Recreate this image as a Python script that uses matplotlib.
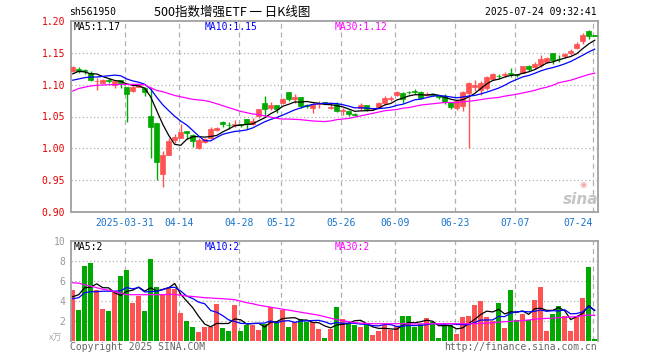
import numpy as np
import pandas as pd
import matplotlib
matplotlib.use('agg')
import matplotlib.pyplot as plt

# trading days shown, 2025-03-18 .. 2025-07-24
dates = ['03-18', '03-19', '03-20', '03-21', '03-24', '03-25', '03-26', '03-27', '03-28', '03-31',
         '04-01', '04-02', '04-03', '04-07', '04-08', '04-09', '04-10', '04-11', '04-14', '04-15',
         '04-16', '04-17', '04-18', '04-21', '04-22', '04-23', '04-24', '04-25', '04-28', '04-29',
         '04-30', '05-06', '05-07', '05-08', '05-09', '05-12', '05-13', '05-14', '05-15', '05-16',
         '05-19', '05-20', '05-21', '05-22', '05-23', '05-26', '05-27', '05-28', '05-29', '05-30',
         '06-03', '06-04', '06-05', '06-06', '06-09', '06-10', '06-11', '06-12', '06-13', '06-16',
         '06-17', '06-18', '06-19', '06-20', '06-23', '06-24', '06-25', '06-26', '06-27', '06-30',
         '07-01', '07-02', '07-03', '07-04', '07-07', '07-08', '07-09', '07-10', '07-11', '07-14',
         '07-15', '07-16', '07-17', '07-18', '07-21', '07-22', '07-23', '07-24']

opens = [1.121, 1.125, 1.123, 1.119, 1.105, 1.103, 1.108, 1.100, 1.107, 1.096,
         1.090, 1.097, 1.094, 1.050, 1.040, 0.960, 0.990, 1.013, 1.017, 1.027,
         1.021, 1.000, 1.010, 1.016, 1.029, 1.041, 1.037, 1.036, 1.038, 1.046,
         1.038, 1.051, 1.071, 1.063, 1.068, 1.071, 1.088, 1.077, 1.080, 1.068,
         1.063, 1.069, 1.072, 1.064, 1.070, 1.059, 1.058, 1.054, 1.063, 1.068,
         1.0615, 1.064, 1.071, 1.078, 1.083, 1.087, 1.089, 1.090, 1.089, 1.084,
         1.085, 1.083, 1.082, 1.072, 1.064, 1.066, 1.087, 1.097, 1.091, 1.094,
         1.109, 1.114, 1.115, 1.118, 1.116, 1.119, 1.130, 1.128, 1.131, 1.135,
         1.149, 1.141, 1.145, 1.150, 1.158, 1.169, 1.184, 1.177]
closes = [1.128, 1.121, 1.121, 1.108, 1.106, 1.108, 1.105, 1.106, 1.102, 1.085,
          1.097, 1.100, 1.089, 1.033, 0.978, 0.990, 1.012, 1.018, 1.026, 1.024,
          1.011, 1.013, 1.014, 1.031, 1.032, 1.039, 1.036, 1.039, 1.036, 1.038,
          1.043, 1.061, 1.062, 1.068, 1.062, 1.077, 1.077, 1.080, 1.067, 1.067,
          1.069, 1.071, 1.071, 1.065, 1.059, 1.060, 1.054, 1.053, 1.068, 1.061,
          1.062, 1.071, 1.079, 1.079, 1.088, 1.077, 1.088, 1.089, 1.079, 1.085,
          1.084, 1.080, 1.072, 1.065, 1.075, 1.089, 1.103, 1.099, 1.103, 1.112,
          1.116, 1.113, 1.116, 1.116, 1.115, 1.129, 1.125, 1.133, 1.141, 1.142,
          1.138, 1.140, 1.148, 1.153, 1.164, 1.178, 1.177, 1.177]
highs = [1.130, 1.127, 1.125, 1.121, 1.110, 1.109, 1.110, 1.108, 1.108, 1.097,
         1.099, 1.101, 1.097, 1.097, 1.040, 0.996, 1.016, 1.023, 1.038, 1.027,
         1.023, 1.016, 1.016, 1.034, 1.033, 1.043, 1.041, 1.045, 1.038, 1.046,
         1.047, 1.0625, 1.082, 1.072, 1.068, 1.079, 1.089, 1.085, 1.080, 1.070,
         1.071, 1.075, 1.073, 1.073, 1.072, 1.064, 1.060, 1.056, 1.071, 1.068,
         1.063, 1.072, 1.082, 1.082, 1.090, 1.088, 1.090, 1.093, 1.090, 1.088,
         1.087, 1.084, 1.086, 1.073, 1.076, 1.090, 1.104, 1.107, 1.105, 1.114,
         1.118, 1.117, 1.120, 1.126, 1.117, 1.130, 1.131, 1.135, 1.146, 1.144,
         1.150, 1.147, 1.150, 1.156, 1.167, 1.181, 1.186, 1.178]
lows = [1.120, 1.118, 1.117, 1.105, 1.092, 1.102, 1.103, 1.094, 1.095, 1.041,
        1.089, 1.096, 1.082, 0.985, 0.951, 0.940, 0.989, 1.009, 1.016, 1.014,
        1.002, 0.999, 1.009, 1.014, 1.028, 1.034, 1.030, 1.033, 1.034, 1.031,
        1.036, 1.048, 1.050, 1.060, 1.056, 1.069, 1.075, 1.071, 1.064, 1.064,
        1.056, 1.064, 1.069, 1.061, 1.057, 1.052, 1.051, 1.051, 1.060, 1.059,
        1.060, 1.063, 1.068, 1.075, 1.082, 1.071, 1.086, 1.085, 1.077, 1.082,
        1.082, 1.077, 1.069, 1.062, 1.060, 1.058, 1.000, 1.090, 1.084, 1.092,
        1.108, 1.109, 1.112, 1.112, 1.112, 1.118, 1.122, 1.125, 1.128, 1.134,
        1.132, 1.136, 1.142, 1.147, 1.156, 1.164, 1.172, 1.176]

# volume, in 万 (10k) units
volumes = [5.07, 3.07, 7.47, 7.77, 5.07, 3.14, 2.97, 5.0, 6.47, 7.07,
           3.77, 4.5, 2.97, 8.17, 5.37, 4.67, 5.24, 5.17, 2.77, 1.97,
           1.37, 0.85, 1.35, 1.4, 3.7, 1.25, 0.95, 3.6, 0.95, 1.55,
           1.55, 1.05, 1.7, 3.4, 1.8, 3.1, 1.35, 1.85, 2.2, 1.85,
           1.9, 1.2, 0.25, 1.2, 3.37, 2.13, 1.73, 1.57, 1.4, 1.65,
           0.57, 0.97, 1.6, 1.1, 1.5, 2.47, 2.47, 1.4, 1.65, 2.27,
           1.9, 0.27, 1.5, 1.57, 0.67, 2.4, 2.47, 3.57, 3.97, 2.37,
           2.0, 3.77, 1.27, 5.07, 2.1, 2.67, 2.05, 4.07, 5.37, 1.0,
           2.67, 3.47, 2.47, 0.97, 2.45, 4.27, 7.37, 0.17]

# MA30 lines (they need history before the window)
ma30_price = [1.090, 1.094, 1.096, 1.098, 1.099, 1.0995, 1.100, 1.100, 1.1005, 1.1005,
              1.1005, 1.1005, 1.100, 1.095, 1.091, 1.089, 1.086, 1.083, 1.081, 1.079,
              1.077, 1.076, 1.075, 1.073, 1.070, 1.067, 1.064, 1.061, 1.058, 1.056,
              1.054, 1.053, 1.051, 1.049, 1.047, 1.046, 1.046, 1.0455, 1.045, 1.044,
              1.043, 1.0425, 1.042, 1.043, 1.045, 1.046, 1.047, 1.049, 1.051, 1.053,
              1.055, 1.057, 1.059, 1.060, 1.061, 1.063, 1.064, 1.066, 1.068, 1.069,
              1.070, 1.071, 1.072, 1.072, 1.072, 1.073, 1.074, 1.075, 1.0765, 1.078,
              1.079, 1.080, 1.082, 1.0835, 1.085, 1.087, 1.089, 1.091, 1.094, 1.096,
              1.099, 1.103, 1.105, 1.107, 1.110, 1.113, 1.116, 1.118]
ma30_vol = [5.8, 5.75, 5.6, 5.45, 5.3, 5.15, 5.05, 4.9, 4.75, 4.6,
            4.6, 4.6, 4.6, 4.6, 4.6, 4.6, 4.63, 4.63, 4.55, 4.47,
            4.42, 4.37, 4.3, 4.27, 4.23, 4.2, 4.15, 4.1, 3.95, 3.8,
            3.7, 3.55, 3.45, 3.35, 3.25, 3.15, 3.05, 2.95, 2.85, 2.75,
            2.65, 2.55, 2.4, 2.25, 2.1, 2.0, 1.9, 1.8, 1.75, 1.72,
            1.7, 1.7, 1.7, 1.7, 1.7, 1.7, 1.68, 1.67, 1.68, 1.7,
            1.7, 1.7, 1.7, 1.7, 1.7, 1.7, 1.7, 1.7, 1.72, 1.76,
            1.8, 1.85, 1.9, 1.93, 1.97, 2.02, 2.07, 2.15, 2.2, 2.23,
            2.26, 2.3, 2.33, 2.37, 2.42, 2.5, 2.57, 2.52]

# first points of MA5/MA10
ma5_price_head = [1.117, 1.121, 1.120, 1.117]
ma10_price_head = [1.107, 1.109, 1.111, 1.112, 1.112, 1.113, 1.114, 1.115, 1.114]
ma5_vol_head = [4.4, 4.6, 5.3, 5.35]
ma10_vol_head = [4.2, 4.3, 4.8, 4.9, 4.9, 4.95, 4.95, 4.95, 5.0]

tick_dates = ['03-31', '04-14', '04-28', '05-12', '05-26', '06-09', '06-23', '07-07', '07-24']
tick_labels = ['2025-03-31', '04-14', '04-28', '05-12', '05-26', '06-09', '06-23', '07-07', '07-24']

RED = '#ff5252'
GREEN = '#00a800'
GRID = '#b0b0b0'
SPINE = '#a0a0a0'
MONO = 'DejaVu Sans Mono'
CJK = ['Noto Sans CJK SC', 'DejaVu Sans']


def moving_avg(values, n, head):
    ma = pd.Series(values).rolling(n).mean().to_numpy()
    ma[:len(head)] = head
    return ma


W, H = 660, 360
def fx(x): return x / W
def fy(y): return 1 - y / H

o = np.array(opens); c = np.array(closes)
hi = np.array(highs); lo = np.array(lows)
vol = np.array(volumes)
x = np.arange(len(dates))
colors = np.where(c > o, RED, GREEN)

fig = plt.figure(figsize=(6.6, 3.6), dpi=100)
ax = fig.add_axes([fx(70.7), fy(212), (598 - 70.7) / W, 191 / H])
axv = fig.add_axes([fx(70.7), fy(340.7), (598 - 70.7) / W, 100 / H])

grid_x = [dates.index(d) - 0.35 for d in tick_dates]
for a in (ax, axv):
    for g in grid_x:
        a.axvline(g, color=GRID, lw=0.9, ls=(0, (4, 3)), zorder=0)
    a.set_xlim(-0.333, 87.55)
    for s in a.spines.values():
        s.set_color(SPINE); s.set_linewidth(1.3)

# candles
ax.vlines(x, lo, hi, colors=colors, lw=1, zorder=2)
ax.bar(x, np.maximum(np.abs(c - o), 0.0008), bottom=np.minimum(o, c), width=0.8,
       color=colors, edgecolor=colors, linewidth=0.5, zorder=3)
ax.plot(x, moving_avg(closes, 5, ma5_price_head), color='black', lw=0.9, zorder=4)
ax.plot(x, moving_avg(closes, 10, ma10_price_head), color='#0000ff', lw=0.9, zorder=4)
ax.plot(x, ma30_price, color='#ff00ff', lw=0.9, zorder=4)

for yv in [0.95, 1.00, 1.05, 1.10, 1.15]:
    ax.axhline(yv, color=GRID, lw=0.9, ls=(0, (1, 2)), zorder=0)
ax.set_ylim(0.90, 1.20)
ax.set_yticks(np.arange(0.90, 1.201, 0.05))
ax.set_yticklabels(['%.2f' % v for v in np.arange(0.90, 1.201, 0.05)],
                   family=MONO, fontsize=7, color='#e60000')
ax.set_xticks(grid_x)
ax.set_xticklabels(tick_labels, family=MONO, fontsize=7, color='#1874cd')
ax.get_xticklabels()[-1].set_ha('right')
ax.tick_params(length=0, pad=4)

# volume
axv.bar(x, vol, width=0.8, color=colors, linewidth=0, zorder=2)
axv.plot(x, moving_avg(volumes, 5, ma5_vol_head), color='black', lw=0.9, zorder=3)
axv.plot(x, moving_avg(volumes, 10, ma10_vol_head), color='#0000ff', lw=0.9, zorder=3)
axv.plot(x, ma30_vol, color='#ff00ff', lw=0.9, zorder=3)
for yv in [2, 4, 6, 8]:
    axv.axhline(yv, color=GRID, lw=0.9, ls=(0, (1, 2)), zorder=0)
axv.set_ylim(0, 10)
axv.set_yticks([2, 4, 6, 8, 10])
axv.set_yticklabels(['2', '4', '6', '8', '10'], family=MONO, fontsize=7, color='#999999')
axv.set_xticks([])
axv.tick_params(length=0, pad=4)
axv.spines['bottom'].set_visible(False)

# texts
fig.text(fx(69.5), fy(12), 'sh561950', family=MONO, fontsize=7, va='center')
fig.text(fx(232), fy(12), '500指数增强ETF 一 日K线图', family=CJK, fontsize=9,
         ha='center', va='center')
fig.text(fx(597), fy(12), '2025-07-24 09:32:41', family=MONO, fontsize=7,
         ha='right', va='center')

for (px, txt, col) in [(73.5, 'MA5:1.17', 'black'), (204.5, 'MA10:1.15', '#0000ff'),
                       (334.5, 'MA30:1.12', '#ff00ff')]:
    fig.text(fx(px), fy(27), txt, family=MONO, fontsize=7, color=col, va='center')
for (px, txt, col) in [(74, 'MA5:2', 'black'), (204.5, 'MA10:2', '#0000ff'),
                       (334.5, 'MA30:2', '#ff00ff')]:
    fig.text(fx(px), fy(246.5), txt, family=MONO, fontsize=7, color=col, va='center')

fig.text(fx(56), fy(338.5), 'x万', family=CJK, fontsize=6.5, color='#aaaaaa',
         style='italic', ha='center', va='center')
fig.text(fx(70), fy(346.5), 'Copyright 2025 SINA.COM', family=MONO, fontsize=7,
         color='#666666', va='center')
fig.text(fx(597), fy(346.5), 'http://finance.sina.com.cn', family=MONO, fontsize=7,
         color='#666666', ha='right', va='center')

# sina watermark
fig.text(fx(581), fy(200), 'sina', fontsize=11, fontweight='bold', style='italic',
         color='#c4c4c4', ha='center', va='center')
fig.text(fx(583), fy(185), '◉', fontsize=6, color='#f2a8a8', ha='center', va='center')

fig.savefig('out.png', dpi=100)
